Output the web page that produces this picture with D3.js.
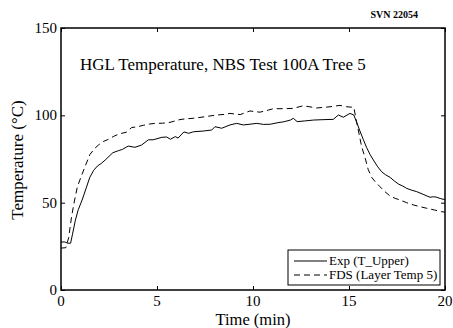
<!DOCTYPE html>
<html>
<head>
<meta charset="utf-8">
<script src="https://cdn.jsdelivr.net/npm/d3@7"></script>
<style>
  body { margin: 0; background: #fff; }
  svg { display: block; font-family: "Liberation Serif", "Times New Roman", serif; }
</style>
</head>
<body>
<div id="chart"></div>
<script>
// Exp (T_Upper) - solid
const expTime = [0, 0.2, 0.35, 0.5, 0.6, 0.75, 0.9, 1.1, 1.3, 1.5, 1.7, 1.9, 2.1, 2.3, 2.5, 2.7, 3.0, 3.2, 3.5, 3.85,
    4.2, 4.55, 4.8, 5.25, 5.5, 5.7, 5.95, 6.1, 6.4, 6.65, 6.9, 7.4, 7.85, 8.02, 8.37, 8.8, 9.15, 9.5, 9.9, 10.2,
    10.55, 10.9, 11.3, 11.6, 11.95, 12.1, 12.3, 12.7, 13.15, 13.6, 14.18, 14.45, 14.7, 15.05, 15.25, 15.4, 15.57,
    15.75, 15.92, 16.1, 16.27, 16.5, 16.7, 16.9, 17.14, 17.35, 17.57, 17.8, 18.0, 18.25, 18.53, 18.9, 19.22, 19.4,
    19.57, 19.75, 20];
const expTemp = [27.5, 27.5, 26.8, 26.8, 32, 40, 46, 51.5, 58, 64.5, 68.5, 71, 72.5, 74.4, 76.5, 78.6, 79.8, 80.5, 82.4, 81.7,
    83, 86, 86, 87.4, 87.6, 86.3, 87.8, 87, 90.5, 89.7, 90.6, 91, 91.6, 93.5, 92.6, 94.5, 95.4, 94.5, 95, 95.4,
    94.8, 94.9, 95.8, 96.3, 97.3, 98.3, 96.4, 96.8, 97.3, 97.5, 97.7, 100.2, 98.9, 101.1, 100.2, 96, 91,
    86, 81.5, 77.5, 74.4, 70.5, 67.7, 66, 64.5, 62.5, 60.7, 59.5, 58.2, 57.2, 56.3, 54.6, 53.1, 53.4,
    53.1, 52.4, 51.7];

// FDS (Layer Temp 5) - dashed
const fdsTime = [0, 0.25, 0.4, 0.55, 0.7, 0.85, 1.05, 1.25, 1.5, 1.75, 1.95, 2.2, 2.46, 2.75, 3.07, 3.4, 3.68, 4.0, 4.29, 4.6,
    4.9, 5.3, 5.68, 6.2, 6.5, 6.89, 7.5, 8.1, 8.5, 8.8, 9.33, 9.84, 10.36, 10.8, 11.06, 11.6, 12.1, 12.62, 13.32, 14.01,
    14.53, 14.88, 15.25, 15.4, 15.55, 15.66, 15.83, 16.0, 16.18, 16.4, 16.61, 16.85, 17.14, 17.4, 17.66, 18.0, 18.35,
    18.7, 19.05, 19.45, 19.83, 20];
const fdsTemp = [24, 24.2, 30, 42, 51, 59, 65, 70.6, 77.5, 81, 83, 85, 86.2, 88, 89.5, 90.3, 93, 93.5, 94.3, 95,
    95.4, 95.5, 96, 97.6, 98, 98.3, 99.2, 100.2, 100.5, 101.1, 100.4, 102.5, 101.8, 103, 103.8, 103.8, 104, 105.5, 104.2, 104.9,
    105.7, 104.9, 104.6, 96, 88, 82, 76, 69, 64.5, 61.5, 59.2, 56.5, 53.8, 52.5, 51.5, 50, 48.7,
    47.7, 46.8, 45.8, 44.8, 44.6];

const xTicks = [0, 5, 10, 15, 20];
const yTicks = [0, 50, 100, 150];
const legendLabels = ["Exp (T_Upper)", "FDS (Layer Temp 5)"];

const W = 453, H = 328;
const margin = { top: 28, right: 8, bottom: 38, left: 61 };
const width = W - margin.left - margin.right;
const height = H - margin.top - margin.bottom;

const svg = d3.select("#chart").append("svg")
    .attr("width", W)
    .attr("height", H);

const g = svg.append("g")
    .attr("transform", `translate(${margin.left}, ${margin.top})`);

const x = d3.scaleLinear().domain([0, 20]).range([0, width]);
const y = d3.scaleLinear().domain([0, 150]).range([height, 0]);

// inward ticks, labels drawn separately
g.append("g")
    .attr("transform", `translate(0, ${height})`)
    .call(d3.axisTop(x).tickValues(xTicks).tickSize(4).tickFormat(""))
    .call(a => a.select(".domain").remove());
g.append("g")
    .call(d3.axisBottom(x).tickValues(xTicks).tickSize(4).tickFormat(""))
    .call(a => a.select(".domain").remove());
g.append("g")
    .call(d3.axisRight(y).tickValues(yTicks).tickSize(4).tickFormat(""))
    .call(a => a.select(".domain").remove());
g.append("g")
    .attr("transform", `translate(${width}, 0)`)
    .call(d3.axisLeft(y).tickValues(yTicks).tickSize(4).tickFormat(""))
    .call(a => a.select(".domain").remove());
g.selectAll(".tick line").attr("stroke", "#000").attr("stroke-width", 1);

// tick labels
g.selectAll(".xlab")
    .data(xTicks)
    .enter()
  .append("text")
    .attr("x", d => x(d))
    .attr("y", height + 16)
    .attr("text-anchor", "middle")
    .attr("font-size", 15)
    .text(d => d);

g.selectAll(".ylab")
    .data(yTicks)
    .enter()
  .append("text")
    .attr("x", -4)
    .attr("y", d => y(d) + 5)
    .attr("text-anchor", "end")
    .attr("font-size", 15)
    .text(d => d);

// lines
const line = d3.line()
    .x(d => x(d[0]))
    .y(d => y(d[1]));

g.append("path")
    .datum(expTime.map((t, i) => [t, expTemp[i]]))
    .attr("d", line)
    .attr("fill", "none")
    .attr("stroke", "#000")
    .attr("stroke-width", 1);

g.append("path")
    .datum(fdsTime.map((t, i) => [t, fdsTemp[i]]))
    .attr("d", line)
    .attr("fill", "none")
    .attr("stroke", "#000")
    .attr("stroke-width", 1)
    .attr("stroke-dasharray", "6,4");

// frame
g.append("rect")
    .attr("width", width)
    .attr("height", height)
    .attr("fill", "none")
    .attr("stroke", "#000")
    .attr("stroke-width", 1.5);

// title inside plot
g.append("text")
    .attr("x", 19)
    .attr("y", 42)
    .attr("font-size", 17)
    .text("HGL Temperature, NBS Test 100A Tree 5");

// axis titles
svg.append("text")
    .attr("x", margin.left + width / 2)
    .attr("y", 325)
    .attr("text-anchor", "middle")
    .attr("font-size", 16.5)
    .text("Time (min)");

svg.append("text")
    .attr("transform", `translate(23, ${margin.top + height / 2 + 1}) rotate(-90)`)
    .attr("text-anchor", "middle")
    .attr("font-size", 17)
    .text("Temperature (°C)");

svg.append("text")
    .attr("x", 418)
    .attr("y", 18)
    .attr("text-anchor", "end")
    .attr("font-size", 10)
    .attr("font-weight", "bold")
    .text("SVN 22054");

// legend
const legend = svg.append("g").attr("transform", "translate(288, 250)");
legend.append("rect")
    .attr("width", 152)
    .attr("height", 35)
    .attr("fill", "#fff")
    .attr("stroke", "#000")
    .attr("stroke-width", 1);

legend.selectAll(".row")
    .data(legendLabels)
    .enter()
  .append("g")
    .attr("transform", (d, i) => `translate(0, ${11 + i * 14})`)
    .each(function (d, i) {
        const row = d3.select(this);
        row.append("line")
            .attr("x1", 6).attr("x2", 39)
            .attr("stroke", "#000")
            .attr("stroke-width", 1)
            .attr("stroke-dasharray", i === 1 ? "6,4" : null);
        row.append("text")
            .attr("x", 41)
            .attr("y", 4)
            .attr("font-size", 13)
            .text(d);
    });
</script>
</body>
</html>
